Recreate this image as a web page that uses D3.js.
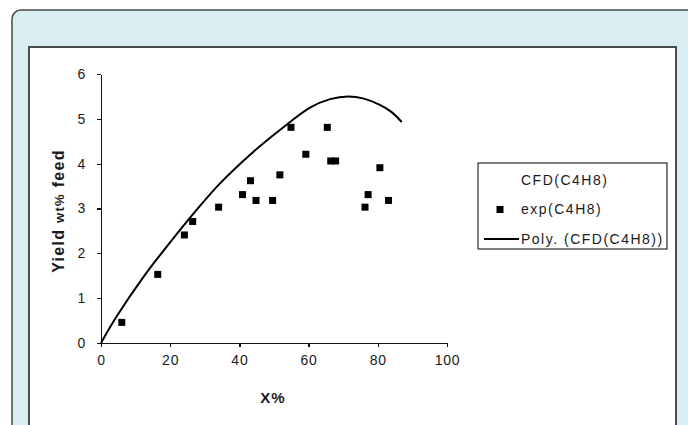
<!DOCTYPE html>
<html>
  <head>
    <meta charset="utf-8">
    <title></title>
  </head>
  <style>
  body{
      margin:0;
      padding:0;
      background:#fff;
      font-family: "Liberation Sans", Arial, sans-serif;
  }
  .axis path, .axis line{
      stroke: #111;
      stroke-width: 1.3;
      shape-rendering: crispEdges;
  }
  .axis text{
      font-family: "Liberation Sans", Arial, sans-serif;
      font-size: 14px;
      letter-spacing: 0.8px;
      fill: #1a1a1a;
  }
  </style>
  <script src="https://d3js.org/d3.v7.min.js"></script>
  <body>
    <script>
    // experimental points
    const expX = [6.0, 16.4, 24.1, 26.5, 34.0, 40.9, 43.2, 44.8, 49.6, 51.7, 54.9, 59.2, 65.4, 66.4, 67.8, 76.3, 77.2, 80.6, 83.1]
    const expY = [0.46, 1.53, 2.41, 2.71, 3.03, 3.31, 3.62, 3.18, 3.18, 3.75, 4.81, 4.21, 4.81, 4.06, 4.06, 3.03, 3.31, 3.91, 3.18]

    // polynomial trend line
    const polyX = [0, 4.5, 12.7, 19.0, 27.2, 34.4, 43.1, 51.7, 60.4, 66.2, 71.5, 76.0, 80.6, 84.0, 86.9]
    const polyY = [0, 0.59, 1.52, 2.15, 2.93, 3.56, 4.20, 4.75, 5.25, 5.44, 5.50, 5.45, 5.31, 5.15, 4.93]

    const xTicks = [0, 20, 40, 60, 80, 100]
    const yTicks = [0, 1, 2, 3, 4, 5, 6]
    const legendNames = ["CFD(C4H8)", "exp(C4H8)", "Poly. (CFD(C4H8))"]

    var W = 688, H = 425

    var svg = d3.select("body").append("svg")
                .attr("width", W)
                .attr("height", H)

    // frame
    svg.append("rect")
       .attr("x", 12).attr("y", 10)
       .attr("width", 720).attr("height", 440)
       .attr("rx", 9)
       .attr("fill", "#d9edf2")
       .attr("stroke", "#4a4a4a")
       .attr("stroke-width", 1.5)

    svg.append("rect")
       .attr("x", 29).attr("y", 47)
       .attr("width", 647).attr("height", 420)
       .attr("fill", "#fff")
       .attr("stroke", "#4a4a4a")
       .attr("stroke-width", 2)

    var xScale = d3.scaleLinear().domain([0, 100]).range([101, 447])
    var yScale = d3.scaleLinear().domain([0, 6]).range([343, 74])

    var xAxis = d3.axisBottom(xScale).tickValues(xTicks).tickSize(4).tickSizeOuter(0).tickPadding(8)
                  .tickFormat(d3.format("d"))
    var yAxis = d3.axisLeft(yScale).tickValues(yTicks).tickSize(4).tickSizeOuter(0).tickPadding(11)
                  .tickFormat(d3.format("d"))

    svg.append("g")
       .attr("class", "axis")
       .attr("transform", "translate(0," + yScale(0) + ")")
       .call(xAxis)

    svg.append("g")
       .attr("class", "axis")
       .attr("transform", "translate(" + xScale(0) + ",0)")
       .call(yAxis)

    // axis titles
    svg.append("text")
       .attr("x", 273).attr("y", 403)
       .attr("text-anchor", "middle")
       .attr("font-weight", "bold")
       .attr("font-size", "15px")
       .attr("letter-spacing", "1px")
       .attr("fill", "#1a1a1a")
       .text("X%")

    var yt = svg.append("text")
       .attr("transform", "translate(64,211) rotate(-90)")
       .attr("text-anchor", "middle")
       .attr("font-weight", "bold")
       .attr("font-size", "16px")
       .attr("letter-spacing", "1.3px")
       .attr("fill", "#1a1a1a")
    yt.append("tspan").text("Yield ")
    yt.append("tspan").attr("font-size", "13px").text("wt%")
    yt.append("tspan").text(" feed")

    // trend line
    var pts = polyX.map(function(x, i){ return [x, polyY[i]] })
    var line = d3.line()
                 .x(function(d){ return xScale(d[0]) })
                 .y(function(d){ return yScale(d[1]) })
                 .curve(d3.curveCatmullRom.alpha(0.5))
    svg.append("path")
       .attr("d", line(pts))
       .attr("fill", "none")
       .attr("stroke", "#000")
       .attr("stroke-width", 2)

    // markers
    var ms = 7
    svg.append("g").selectAll("rect")
       .data(expX.map(function(x, i){ return [x, expY[i]] }))
       .enter()
       .append("rect")
       .attr("x", function(d){ return xScale(d[0]) - ms/2 })
       .attr("y", function(d){ return yScale(d[1]) - ms/2 })
       .attr("width", ms).attr("height", ms)
       .attr("fill", "#000")

    // legend
    var lg = svg.append("g").attr("transform", "translate(478,163)")
    lg.append("rect")
      .attr("width", 189).attr("height", 86)
      .attr("fill", "#fff")
      .attr("stroke", "#000")
      .attr("stroke-width", 1)

    lg.selectAll("text")
      .data(legendNames)
      .enter()
      .append("text")
      .attr("x", 43)
      .attr("y", function(d, i){ return 17 + i * 29.5 })
      .attr("dy", "0.35em")
      .attr("font-size", "14px")
      .attr("letter-spacing", "1.5px")
      .attr("fill", "#1a1a1a")
      .text(function(d){ return d })

    lg.append("rect")
      .attr("x", 22 - ms/2).attr("y", 46.5 - ms/2)
      .attr("width", ms).attr("height", ms)
      .attr("fill", "#000")

    lg.append("line")
      .attr("x1", 6).attr("x2", 41)
      .attr("y1", 76).attr("y2", 76)
      .attr("stroke", "#000")
      .attr("stroke-width", 2)
    </script>
  </body>
</html>
